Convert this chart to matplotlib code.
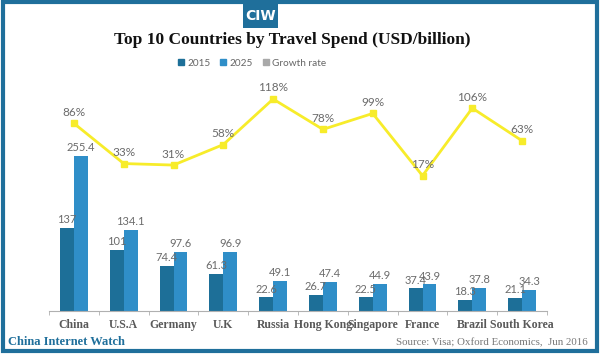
import matplotlib
matplotlib.use("Agg")
import matplotlib.pyplot as plt
from matplotlib.patches import Rectangle, Patch
import numpy as np

countries = ["China", "U.S.A", "Germany", "U.K", "Russia", "Hong Kong",
             "Singapore", "France", "Brazil", "South Korea"]
spend_2015 = [137, 101, 74.4, 61.3, 22.6, 26.7, 22.5, 37.4, 18.3, 21.1]
spend_2025 = [255.4, 134.1, 97.6, 96.9, 49.1, 47.4, 44.9, 43.9, 37.8, 34.3]
growth = [86, 33, 31, 58, 118, 78, 99, 17, 106, 63]

c2015 = "#1d6f98"
c2025 = "#2f8ec8"
cline = "#f7ec2a"
cframe = "#1f6f9b"
cgray = "#6b6b6b"

W, H = 600, 354
fig = plt.figure(figsize=(6, 3.54), dpi=100)

def fx(px):
    return px / W

def fy(py):
    return 1 - py / H

# frame
fig.patches.append(Rectangle((fx(3), fy(351)), fx(594), fy(0) - fy(349),
                             transform=fig.transFigure, fill=False,
                             edgecolor=cframe, linewidth=3))
# logo
fig.patches.append(Rectangle((fx(243), fy(28)), fx(35), fy(0) - fy(26),
                             transform=fig.transFigure, facecolor=cframe,
                             edgecolor="none"))
fig.text(fx(260.5), fy(16), "CIW", color="white", fontsize=10, fontweight="bold",
         ha="center", va="center", family="DejaVu Sans")

fig.text(fx(292), fy(40), "Top 10 Countries by Travel Spend (USD/billion)",
         ha="center", va="center", fontsize=12.5, fontweight="bold",
         family="Liberation Serif", color="#111111")

ax = fig.add_axes([fx(49), fy(311), fx(498), (311 - 85) / H])
x = np.arange(len(countries))
bw = 0.281
ax.bar(x - bw / 2, spend_2015, bw, color=c2015, label="2015")
ax.bar(x + bw / 2, spend_2025, bw, color=c2025, label="2025")
ax.set_ylim(0, 226 / 0.607)
ax.set_xlim(-0.5, len(countries) - 0.5)

for xi, v in zip(x, spend_2015):
    ax.annotate(f"{v:g}", (xi - bw / 2, v), xytext=(0, 2), textcoords="offset points",
                ha="center", va="bottom", fontsize=8, color=cgray, family="Lato")
for xi, v in zip(x, spend_2025):
    ax.annotate(f"{v:g}", (xi + bw / 2, v), xytext=(0, 2), textcoords="offset points",
                ha="center", va="bottom", fontsize=8, color=cgray, family="Lato")

for s in ["top", "right", "left"]:
    ax.spines[s].set_visible(False)
ax.spines["bottom"].set_color("#b0b0b0")
ax.set_yticks([])
ax.set_xticks(x)
ax.set_xticklabels(countries, fontsize=8.5, fontweight="bold", family="Liberation Serif",
                   color="#595959")
ax.tick_params(axis="x", which="major", length=0, pad=6)
ax.set_xticks(np.arange(-0.5, len(countries), 1), minor=True)
ax.tick_params(axis="x", which="minor", length=3, color="#b0b0b0")
ax.patch.set_alpha(0)

ax2 = ax.twinx()
ax2.plot(x, growth, color=cline, linewidth=2, marker="s", markersize=4,
         label="Growth rate")
ax2.set_ylim((188.6 - 311) / 0.759, (188.6 - 85) / 0.759)
ax2.axis("off")
for xi, g in zip(x, growth):
    ax2.annotate(f"{g}%", (xi, g), xytext=(0, 4), textcoords="offset points",
                 ha="center", va="bottom", fontsize=8.5, color=cgray, family="Lato")

# legend
handles = [Patch(color=c2015, label="2015"), Patch(color=c2025, label="2025"),
           Patch(color="#a9a9a9", label="Growth rate")]
fig.legend(handles=handles, loc="center", bbox_to_anchor=(fx(252), fy(63)), ncol=3,
           frameon=False, handlelength=0.6, handleheight=0.6,
           handletextpad=0.3, columnspacing=1.0, labelcolor="#666666",
           prop={"family": "Lato", "size": 7.2})

fig.text(fx(8), fy(342), "China Internet Watch", ha="left", va="center",
         fontsize=9, fontweight="bold", family="Liberation Serif", color=cframe)
fig.text(fx(588), fy(343), "Source: Visa; Oxford Economics,  Jun 2016", ha="right",
         va="center", fontsize=7.8, family="Liberation Serif", color="#777777")

fig.savefig("out.png", dpi=100)
